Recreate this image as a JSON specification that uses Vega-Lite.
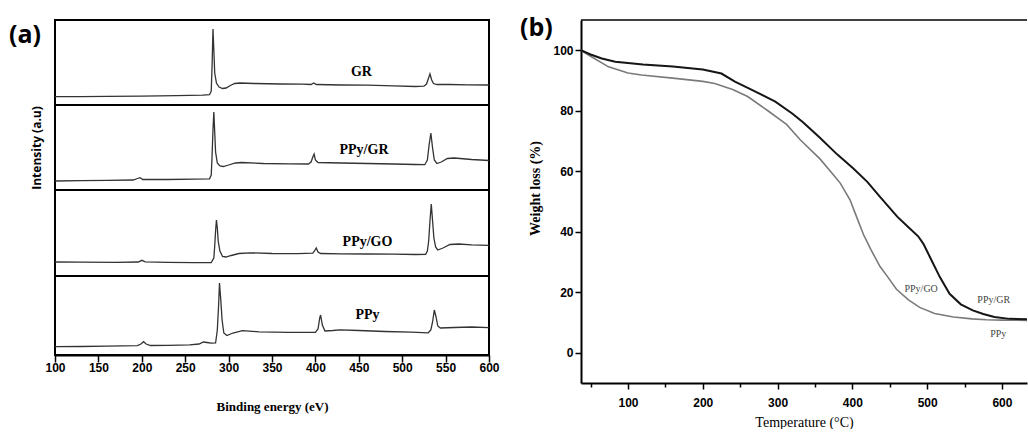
{
  "$schema": "https://vega.github.io/schema/vega-lite/v6.json",
  "padding": {"left": 8, "top": 16, "right": 0, "bottom": 0},
  "background": "white",
  "config": {
    "view": {"stroke": "black", "strokeWidth": 2},
    "axis": {"grid": false, "domainColor": "black", "tickColor": "black", "labelColor": "black", "titleColor": "black"}
  },
  "datasets": {
    "gr": [
      {"be":100,"i":8.3},{"be":130,"i":8.4},{"be":160,"i":8.6},{"be":200,"i":8.9},{"be":240,"i":9.3},{"be":270,"i":9.8},{"be":278,"i":10.3},{"be":280,"i":14},{"be":281,"i":40},{"be":282,"i":76},{"be":283,"i":55},{"be":284,"i":32},{"be":286,"i":22},{"be":289,"i":18},{"be":293,"i":16.5},{"be":297,"i":17},{"be":302,"i":19.5},{"be":307,"i":21.5},{"be":313,"i":22},{"be":330,"i":21.5},{"be":360,"i":21},{"be":385,"i":20.8},{"be":395,"i":20.5},{"be":398,"i":22},{"be":401,"i":20.5},{"be":430,"i":20},{"be":460,"i":19.8},{"be":490,"i":19.2},{"be":515,"i":18.5},{"be":525,"i":18.8},{"be":528,"i":21},{"be":530,"i":26},{"be":532,"i":31},{"be":534,"i":25},{"be":536,"i":21.5},{"be":540,"i":20.5},{"be":555,"i":20.5},{"be":575,"i":20.2},{"be":600,"i":20}
    ],
    "ppygr": [
      {"be":100,"i":9},{"be":130,"i":9.3},{"be":160,"i":9.6},{"be":190,"i":10},{"be":195,"i":11.5},{"be":198,"i":12.3},{"be":201,"i":10.5},{"be":230,"i":10.5},{"be":260,"i":10.8},{"be":278,"i":11.2},{"be":280,"i":15},{"be":281,"i":35},{"be":282,"i":60},{"be":283,"i":78},{"be":284,"i":58},{"be":285,"i":38},{"be":287,"i":27},{"be":290,"i":24},{"be":294,"i":23.5},{"be":300,"i":25},{"be":308,"i":27},{"be":315,"i":27.5},{"be":340,"i":26.5},{"be":370,"i":26.2},{"be":392,"i":26},{"be":395,"i":28},{"be":397,"i":33},{"be":398.5,"i":36},{"be":400,"i":30},{"be":403,"i":27.5},{"be":430,"i":27},{"be":460,"i":26.5},{"be":490,"i":26},{"be":515,"i":25.5},{"be":526,"i":25.3},{"be":529,"i":30},{"be":531,"i":45},{"be":533,"i":57},{"be":535,"i":42},{"be":537,"i":30},{"be":540,"i":26.5},{"be":545,"i":28},{"be":552,"i":31.5},{"be":560,"i":32},{"be":580,"i":30.5},{"be":600,"i":29.5}
    ],
    "ppygo": [
      {"be":100,"i":14},{"be":130,"i":13.8},{"be":170,"i":13.7},{"be":196,"i":14},{"be":200,"i":15.7},{"be":204,"i":14.2},{"be":230,"i":13.7},{"be":260,"i":13.3},{"be":280,"i":13.5},{"be":283,"i":18},{"be":284,"i":30},{"be":285,"i":45},{"be":286,"i":56},{"be":287,"i":48},{"be":288,"i":35},{"be":290,"i":25},{"be":293,"i":19.5},{"be":297,"i":19},{"be":303,"i":20.5},{"be":312,"i":22.5},{"be":325,"i":23.2},{"be":350,"i":22.5},{"be":380,"i":22.3},{"be":397,"i":22.8},{"be":399,"i":25},{"be":401,"i":28},{"be":403,"i":24},{"be":406,"i":22.5},{"be":430,"i":22.2},{"be":460,"i":22},{"be":490,"i":21.8},{"be":515,"i":21.5},{"be":527,"i":21.7},{"be":529,"i":25},{"be":530.5,"i":35},{"be":532,"i":55},{"be":533.5,"i":72},{"be":535,"i":55},{"be":536.5,"i":38},{"be":538.5,"i":29},{"be":541,"i":26},{"be":547,"i":28},{"be":555,"i":31.5},{"be":565,"i":32},{"be":580,"i":31.2},{"be":600,"i":30.7}
    ],
    "ppy": [
      {"be":100,"i":8.3},{"be":130,"i":8.5},{"be":160,"i":8.8},{"be":195,"i":9.3},{"be":199,"i":11},{"be":202,"i":13.3},{"be":205,"i":11},{"be":210,"i":9.5},{"be":230,"i":9.6},{"be":255,"i":10.2},{"be":266,"i":11},{"be":271,"i":13},{"be":275,"i":12.5},{"be":280,"i":11.8},{"be":285,"i":12},{"be":287,"i":25},{"be":288.5,"i":50},{"be":289.5,"i":72},{"be":291,"i":55},{"be":292.5,"i":35},{"be":294.5,"i":22},{"be":298,"i":19.5},{"be":305,"i":22},{"be":316,"i":24.3},{"be":335,"i":23.2},{"be":370,"i":22.7},{"be":400,"i":22.6},{"be":403,"i":26},{"be":405,"i":37},{"be":406,"i":40},{"be":408,"i":30},{"be":411,"i":24},{"be":420,"i":24.5},{"be":428,"i":25.2},{"be":450,"i":24.5},{"be":480,"i":23.5},{"be":510,"i":22.8},{"be":530,"i":22.2},{"be":533,"i":25},{"be":535,"i":33},{"be":537,"i":45},{"be":539,"i":38},{"be":541,"i":29},{"be":544,"i":27},{"be":560,"i":27.5},{"be":580,"i":28},{"be":600,"i":27.3}
    ],
    "labA": [
      {"sample":"GR","be":453,"i":33},
      {"sample":"PPy/GR","be":456,"i":40},
      {"sample":"PPy/GO","be":460,"i":34},
      {"sample":"PPy","be":460,"i":40}
    ],
    "tga": [
      {"s":"PPy/GR","t":37,"w":100},{"s":"PPy/GR","t":50,"w":98.6},{"s":"PPy/GR","t":65,"w":97.3},{"s":"PPy/GR","t":83,"w":96.2},{"s":"PPy/GR","t":120,"w":95.3},{"s":"PPy/GR","t":160,"w":94.6},{"s":"PPy/GR","t":200,"w":93.6},{"s":"PPy/GR","t":225,"w":92.3},{"s":"PPy/GR","t":243,"w":89.6},{"s":"PPy/GR","t":265,"w":87},{"s":"PPy/GR","t":297,"w":83},{"s":"PPy/GR","t":320,"w":79},{"s":"PPy/GR","t":334,"w":76.2},{"s":"PPy/GR","t":357,"w":71},{"s":"PPy/GR","t":380,"w":65.5},{"s":"PPy/GR","t":401,"w":61},{"s":"PPy/GR","t":420,"w":56.5},{"s":"PPy/GR","t":437,"w":51.5},{"s":"PPy/GR","t":460,"w":45},{"s":"PPy/GR","t":475,"w":41.5},{"s":"PPy/GR","t":488,"w":38.5},{"s":"PPy/GR","t":495,"w":36},{"s":"PPy/GR","t":505,"w":31},{"s":"PPy/GR","t":517,"w":25},{"s":"PPy/GR","t":530,"w":19.5},{"s":"PPy/GR","t":545,"w":16},{"s":"PPy/GR","t":561,"w":14},{"s":"PPy/GR","t":575,"w":12.8},{"s":"PPy/GR","t":590,"w":11.8},{"s":"PPy/GR","t":610,"w":11.2},{"s":"PPy/GR","t":641,"w":11},
      {"s":"PPy/GO","t":37,"w":100},{"s":"PPy/GO","t":50,"w":98},{"s":"PPy/GO","t":74,"w":94.5},{"s":"PPy/GO","t":100,"w":92.5},{"s":"PPy/GO","t":118,"w":91.8},{"s":"PPy/GO","t":163,"w":90.7},{"s":"PPy/GO","t":200,"w":89.7},{"s":"PPy/GO","t":216,"w":89},{"s":"PPy/GO","t":240,"w":87},{"s":"PPy/GO","t":260,"w":84.7},{"s":"PPy/GO","t":287,"w":80},{"s":"PPy/GO","t":312,"w":75.5},{"s":"PPy/GO","t":330,"w":70.5},{"s":"PPy/GO","t":357,"w":64},{"s":"PPy/GO","t":374,"w":59},{"s":"PPy/GO","t":384,"w":56},{"s":"PPy/GO","t":397,"w":50.5},{"s":"PPy/GO","t":404,"w":46},{"s":"PPy/GO","t":415,"w":39},{"s":"PPy/GO","t":425,"w":34},{"s":"PPy/GO","t":437,"w":28.5},{"s":"PPy/GO","t":446,"w":25.5},{"s":"PPy/GO","t":459,"w":21},{"s":"PPy/GO","t":475,"w":17.5},{"s":"PPy/GO","t":490,"w":15},{"s":"PPy/GO","t":510,"w":13},{"s":"PPy/GO","t":535,"w":11.8},{"s":"PPy/GO","t":560,"w":11.2},{"s":"PPy/GO","t":579,"w":10.9},{"s":"PPy/GO","t":600,"w":10.8},{"s":"PPy/GO","t":641,"w":10.7}
    ],
    "labB": [
      {"label":"PPy/GO","t":492,"w":21.2},
      {"label":"PPy/GR","t":589,"w":17.3},
      {"label":"PPy","t":595,"w":6.3}
    ]
  },
  "hconcat": [
    {
      "spacing": 0,
      "bounds": "flush",
      "vconcat": [
        {
          "width": 434, "height": 85,
          "title": {"text": "(a)", "anchor": "start", "frame": "group", "orient": "top", "offset": 0, "dx": -46, "dy": 28, "fontSize": 25, "font": "Open Sans", "fontWeight": "bold", "color": "black"},
          "layer": [
            {"data": {"name": "gr"}, "mark": {"type": "line", "color": "#333333", "strokeWidth": 1.3},
             "encoding": {"x": {"field": "be", "type": "quantitative", "scale": {"domain": [100, 600], "nice": false}, "axis": null},
                          "y": {"field": "i", "type": "quantitative", "scale": {"domain": [0, 85], "nice": false}, "axis": null}}},
            {"data": {"name": "labA"}, "transform": [{"filter": "datum.sample === 'GR'"}],
             "mark": {"type": "text", "font": "Liberation Serif", "fontWeight": "bold", "fontSize": 14, "color": "black"},
             "encoding": {"x": {"field": "be", "type": "quantitative"}, "y": {"field": "i", "type": "quantitative"}, "text": {"field": "sample"}}}
          ]
        },
        {
          "width": 434, "height": 85,
          "layer": [
            {"data": {"name": "ppygr"}, "mark": {"type": "line", "color": "#333333", "strokeWidth": 1.3},
             "encoding": {"x": {"field": "be", "type": "quantitative", "scale": {"domain": [100, 600], "nice": false}, "axis": null},
                          "y": {"field": "i", "type": "quantitative", "scale": {"domain": [0, 85], "nice": false},
                                "axis": {"title": "Intensity (a.u)", "labels": false, "ticks": false, "domain": false, "titleFont": "Open Sans", "titleFontWeight": "bold", "titleFontSize": 12, "titlePadding": 12}}}},
            {"data": {"name": "labA"}, "transform": [{"filter": "datum.sample === 'PPy/GR'"}],
             "mark": {"type": "text", "font": "Liberation Serif", "fontWeight": "bold", "fontSize": 14, "color": "black"},
             "encoding": {"x": {"field": "be", "type": "quantitative"}, "y": {"field": "i", "type": "quantitative"}, "text": {"field": "sample"}}}
          ]
        },
        {
          "width": 434, "height": 86,
          "layer": [
            {"data": {"name": "ppygo"}, "mark": {"type": "line", "color": "#333333", "strokeWidth": 1.3},
             "encoding": {"x": {"field": "be", "type": "quantitative", "scale": {"domain": [100, 600], "nice": false}, "axis": null},
                          "y": {"field": "i", "type": "quantitative", "scale": {"domain": [0, 86], "nice": false}, "axis": null}}},
            {"data": {"name": "labA"}, "transform": [{"filter": "datum.sample === 'PPy/GO'"}],
             "mark": {"type": "text", "font": "Liberation Serif", "fontWeight": "bold", "fontSize": 14, "color": "black"},
             "encoding": {"x": {"field": "be", "type": "quantitative"}, "y": {"field": "i", "type": "quantitative"}, "text": {"field": "sample"}}}
          ]
        },
        {
          "width": 434, "height": 79,
          "layer": [
            {"data": {"name": "ppy"}, "mark": {"type": "line", "color": "#333333", "strokeWidth": 1.3},
             "encoding": {"x": {"field": "be", "type": "quantitative", "scale": {"domain": [100, 600], "nice": false},
                                "axis": {"values": [100,125,150,175,200,225,250,275,300,325,350,375,400,425,450,475,500,525,550,575,600],
                                         "labelExpr": "datum.value % 50 === 0 ? datum.label : ''",
                                         "tickSize": {"condition": {"test": "datum.value % 50 === 0", "value": 7}, "value": 4},
                                         "tickWidth": 1.5, "domainWidth": 2, "labelFlush": false, "labelOverlap": false,
                                         "labelFont": "Liberation Sans", "labelFontWeight": "bold", "labelFontSize": 12, "labelPadding": 0,
                                         "title": "Binding energy (eV)", "titleFont": "Liberation Serif", "titleFontSize": 13, "titleFontWeight": "bold", "titlePadding": 27}},
                          "y": {"field": "i", "type": "quantitative", "scale": {"domain": [0, 79], "nice": false}, "axis": null}}},
            {"data": {"name": "labA"}, "transform": [{"filter": "datum.sample === 'PPy'"}],
             "mark": {"type": "text", "font": "Liberation Serif", "fontWeight": "bold", "fontSize": 14, "color": "black"},
             "encoding": {"x": {"field": "be", "type": "quantitative"}, "y": {"field": "i", "type": "quantitative"}, "text": {"field": "sample"}}}
          ]
        }
      ]
    },
    {
      "width": 446, "height": 363,
      "view": {"stroke": null},
      "title": {"text": "(b)", "anchor": "start", "frame": "group", "orient": "top", "offset": 0, "dx": -61, "dy": 22, "fontSize": 25, "font": "Open Sans", "fontWeight": "bold", "color": "black"},
      "layer": [
        {"data": {"values": [{}]}, "mark": {"type": "rule", "color": "black", "strokeWidth": 1.5},
         "encoding": {"y": {"datum": 110, "type": "quantitative", "scale": {"domain": [-10, 110], "nice": false}}}},
        {"data": {"name": "tga"}, "transform": [{"filter": "datum.s === 'PPy/GO'"}],
         "mark": {"type": "line", "color": "#7a7a7a", "strokeWidth": 1.6, "clip": true},
         "encoding": {"x": {"field": "t", "type": "quantitative", "scale": {"domain": [37.2, 633.5], "nice": false}},
                      "y": {"field": "w", "type": "quantitative"}}},
        {"data": {"name": "tga"}, "transform": [{"filter": "datum.s === 'PPy/GR'"}],
         "mark": {"type": "line", "color": "#151515", "strokeWidth": 2, "clip": true},
         "encoding": {"x": {"field": "t", "type": "quantitative",
                            "axis": {"values": [50,100,150,200,250,300,350,400,450,500,550,600],
                                     "labelExpr": "datum.value % 100 === 0 ? datum.label : ''",
                                     "tickSize": {"condition": {"test": "datum.value % 100 === 0", "value": 6}, "value": 4},
                                     "tickWidth": 1.5, "domainWidth": 2, "labelFlush": false, "labelOverlap": false,
                                     "labelFont": "Liberation Sans", "labelFontWeight": "bold", "labelFontSize": 12, "labelPadding": 8,
                                     "title": "Temperature (°C)", "titleFont": "Liberation Serif", "titleFontSize": 14, "titleFontWeight": "normal", "titlePadding": 7}},
                      "y": {"field": "w", "type": "quantitative",
                            "axis": {"values": [0,10,20,30,40,50,60,70,80,90,100],
                                     "labelExpr": "datum.value % 20 === 0 ? datum.label : ''",
                                     "tickSize": {"condition": {"test": "datum.value % 20 === 0", "value": 6}, "value": 4},
                                     "tickWidth": 1.5, "domainWidth": 2, "labelFlush": false, "labelOverlap": false,
                                     "labelFont": "Liberation Sans", "labelFontWeight": "bold", "labelFontSize": 12, "labelPadding": 2,
                                     "title": "Weight loss (%)", "titleFont": "Liberation Serif", "titleFontSize": 14, "titleFontWeight": "bold", "titlePadding": 10, "titleY": 168}}}},
        {"data": {"name": "labB"}, "mark": {"type": "text", "font": "Liberation Serif", "fontSize": 10, "color": "#444444"},
         "encoding": {"x": {"field": "t", "type": "quantitative"}, "y": {"field": "w", "type": "quantitative"}, "text": {"field": "label"}}}
      ]
    }
  ],
  "spacing": 19
}
